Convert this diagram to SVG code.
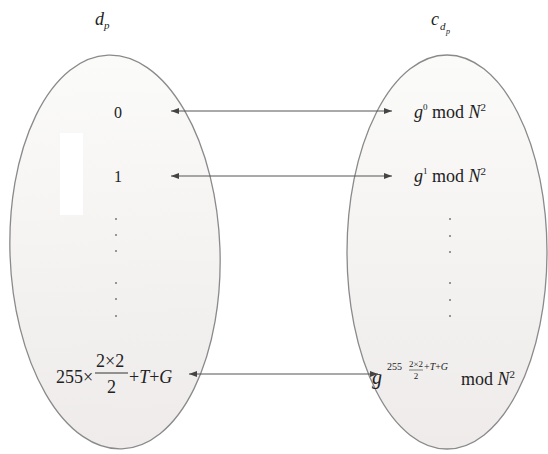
<svg xmlns="http://www.w3.org/2000/svg" width="548" height="454" viewBox="0 0 548 454">
<defs>
<linearGradient id="gfill" x1="0" y1="0" x2="0" y2="1">
<stop offset="0" stop-color="#fbfbfa"/>
<stop offset="1" stop-color="#eeebea"/>
</linearGradient>
<marker id="ah" viewBox="0 0 8 6" refX="8" refY="3" markerWidth="8" markerHeight="6" orient="auto-start-reverse" markerUnits="userSpaceOnUse">
<path d="M0,0 L8,3 L0,6 z" fill="#444"/>
</marker>
</defs>
<style>
.ell{fill:url(#gfill);stroke:#8a8a8a;stroke-width:1.3}
.t{font-family:"Liberation Serif","Times New Roman",serif;fill:#222}
.i{font-style:italic}
.dot{fill:#777}
.con{stroke:#555;stroke-width:1;fill:none;marker-start:url(#ah);marker-end:url(#ah)}
</style>
<rect width="548" height="454" fill="#ffffff"/>
<g id="title-left"><text class="t i" x="95" y="25" font-size="18">d</text><text class="t i" x="104" y="29" font-size="11">p</text></g>
<g id="title-right"><text class="t i" x="431" y="25" font-size="18">c</text><text class="t i" x="440" y="30" font-size="11">d</text><text class="t i" x="446" y="34" font-size="8">p</text></g>
<g id="set-left">
<ellipse class="ell" cx="115" cy="252" rx="105" ry="197" transform="rotate(-2 115 252)"/>
<rect x="60" y="133" width="23" height="82" fill="#ffffff"/>
<text class="t" x="118" y="118" font-size="16" text-anchor="middle">0</text>
<text class="t" x="118" y="182" font-size="16" text-anchor="middle">1</text>
<circle class="dot" cx="116" cy="219" r="1"/><circle class="dot" cx="116" cy="235" r="1"/><circle class="dot" cx="116" cy="251" r="1"/>
<circle class="dot" cx="116" cy="283" r="1"/><circle class="dot" cx="116" cy="299" r="1"/><circle class="dot" cx="116" cy="316" r="1"/>
<text class="t" x="56" y="383" font-size="18">255×</text>
<text class="t" x="96" y="367" font-size="18">2×2</text>
<line x1="95" y1="373" x2="128" y2="373" stroke="#333" stroke-width="1"/>
<text class="t" x="111.5" y="393" font-size="18" text-anchor="middle">2</text>
<text class="t" x="129" y="383" font-size="18">+<tspan class="i">T</tspan>+<tspan class="i">G</tspan></text>
</g>
<g id="set-right">
<ellipse class="ell" cx="447" cy="252" rx="100" ry="197"/>
<text class="t" x="414" y="118" font-size="18"><tspan class="i">g</tspan><tspan font-size="9" dy="-8">0</tspan><tspan dy="8"> mod </tspan><tspan class="i">N</tspan><tspan font-size="11" dy="-7">2</tspan></text>
<text class="t" x="414" y="182" font-size="18"><tspan class="i">g</tspan><tspan font-size="9" dy="-8">1</tspan><tspan dy="8"> mod </tspan><tspan class="i">N</tspan><tspan font-size="11" dy="-7">2</tspan></text>
<circle class="dot" cx="450" cy="219" r="1"/><circle class="dot" cx="450" cy="236" r="1"/><circle class="dot" cx="450" cy="252" r="1"/>
<circle class="dot" cx="450" cy="283" r="1"/><circle class="dot" cx="450" cy="300" r="1"/><circle class="dot" cx="450" cy="316" r="1"/>
<text class="t i" x="372" y="384" font-size="20">g</text>
<text class="t" x="387" y="370" font-size="10">255</text>
<text class="t" x="409" y="367" font-size="9">2×2</text>
<line x1="409" y1="370" x2="423" y2="370" stroke="#333" stroke-width="0.6"/>
<text class="t" x="416" y="379" font-size="9" text-anchor="middle">2</text>
<text class="t" x="424" y="370" font-size="10">+<tspan class="i">T</tspan>+<tspan class="i">G</tspan></text>
<text class="t" x="461" y="385" font-size="18">mod <tspan class="i">N</tspan><tspan font-size="11" dy="-7">2</tspan></text>
</g>
<g id="connectors">
<line class="con" x1="171" y1="111" x2="392" y2="111"/>
<line class="con" x1="171" y1="176" x2="392" y2="176"/>
<line class="con" x1="189" y1="374" x2="378" y2="374"/>
</g>
</svg>
